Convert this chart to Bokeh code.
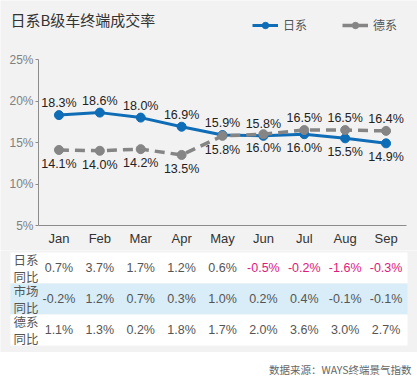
from bokeh.plotting import figure
from bokeh.models import (Range1d, FixedTicker, PrintfTickFormatter,
                          Legend, LegendItem, Label, ColumnDataSource)
from bokeh.layouts import column
from bokeh.embed import file_html
from bokeh.resources import INLINE
from bokeh.core.properties import value

# ---------------- data ----------------
months = ["Jan", "Feb", "Mar", "Apr", "May", "Jun", "Jul", "Aug", "Sep"]
jp_rate = [18.3, 18.6, 18.0, 16.9, 15.9, 15.8, 16.0, 15.5, 14.9]
de_rate = [14.1, 14.0, 14.2, 13.5, 15.8, 16.0, 16.5, 16.5, 16.4]
jp_yoy = [0.7, 3.7, 1.7, 1.2, 0.6, -0.5, -0.2, -1.6, -0.3]
mkt_yoy = [-0.2, 1.2, 0.7, 0.3, 1.0, 0.2, 0.4, -0.1, -0.1]
de_yoy = [1.1, 1.3, 0.2, 1.8, 1.7, 2.0, 3.6, 3.0, 2.7]
row_names = ["日系\n同比", "市场\n同比", "德系\n同比"]
y_ticks = [5, 10, 15, 20, 25]
series_names = ["日系", "德系"]
title_text = "日系B级车终端成交率"
source_note = "数据来源：WAYS终端景气指数"
jp_label_side = ["above", "above", "above", "above", "above", "above", "below", "below", "below"]
de_label_side = ["below", "below", "below", "below", "below", "below", "above", "above", "above"]

# ---------------- style / geometry ----------------
W = 417
BG = "#f2f2f2"
BLUE = "#0f6cb6"
GRAY = "#858585"
NUM_FONT = value("Liberation Sans")
CJK = "Noto Sans CJK SC"
AX_L, AX_R, AX_T, AX_B = 38, 406, 59, 225     # pixel box of the axes area
MAIN_H = 250
Y_MIN, Y_MAX = 5, 25
ABOVE_OFF = -12
BELOW_OFF = 14

n = len(months)
step = (AX_R - AX_L) / n                       # px per month
ppu = (AX_B - AX_T) / (Y_MAX - Y_MIN)          # px per percent
xpos = [i + 0.5 for i in range(n)]
x_range_main = Range1d(-AX_L / step, n + (W - AX_R) / step)
y_range_main = Range1d(Y_MIN - (MAIN_H - AX_B) / ppu, Y_MAX + AX_T / ppu)

def side_off(s):
    return ABOVE_OFF if s == "above" else BELOW_OFF

src = ColumnDataSource(dict(
    x=xpos, jp=jp_rate, de=de_rate,
    jp_txt=[f"{v:.1f}%" for v in jp_rate],
    de_txt=[f"{v:.1f}%" for v in de_rate],
    jp_off=[side_off(s) for s in jp_label_side],
    de_off=[side_off(s) for s in de_label_side],
))

p = figure(width=W, height=MAIN_H, x_range=x_range_main, y_range=y_range_main,
           output_backend="svg", toolbar_location=None,
           min_border_left=0, min_border_right=0, min_border_top=0, min_border_bottom=0,
           background_fill_color=BG, border_fill_color=BG, outline_line_color=None)
p.grid.visible = False

p.yaxis.fixed_location = 0
p.yaxis.bounds = (Y_MIN, Y_MAX)
p.yaxis.ticker = FixedTicker(ticks=y_ticks)
p.yaxis.formatter = PrintfTickFormatter(format="%d%%")
p.yaxis.major_label_text_font_size = "12px"
p.yaxis.major_label_text_color = "#808080"
p.yaxis.major_label_text_font = "Liberation Sans"
p.yaxis.major_tick_in = 0
p.yaxis.major_tick_out = 3
p.yaxis.minor_tick_line_color = None
p.yaxis.major_label_standoff = 2
p.yaxis.axis_line_color = "#8c8c8c"
p.yaxis.major_tick_line_color = "#8c8c8c"

p.xaxis.fixed_location = Y_MIN
p.xaxis.bounds = (0, n)
p.xaxis.ticker = FixedTicker(ticks=xpos)
p.xaxis.major_label_overrides = {x: m for x, m in zip(xpos, months)}
p.xaxis.minor_tick_line_color = None
p.xaxis.major_tick_line_color = None
p.xaxis.major_tick_in = 0
p.xaxis.major_tick_out = 0
p.xaxis.major_label_text_font_size = "13px"
p.xaxis.major_label_text_color = "#333333"
p.xaxis.major_label_text_font = "Liberation Sans"
p.xaxis.major_label_standoff = 5
p.xaxis.axis_line_color = "#8c8c8c"

r1 = p.line("x", "jp", source=src, line_color=BLUE, line_width=3)
r1s = p.scatter("x", "jp", source=src, size=9, fill_color=BLUE, line_color=BLUE)
r2 = p.line("x", "de", source=src, line_color=GRAY, line_width=3.5, line_dash="10 6")
r2s = p.scatter("x", "de", source=src, size=9, fill_color=GRAY, line_color=GRAY)

p.text("x", "jp", text="jp_txt", source=src, y_offset="jp_off", text_align="center",
       text_baseline="middle", text_font_size="12.5px", text_color="#222222", text_font=NUM_FONT)
p.text("x", "de", text="de_txt", source=src, y_offset="de_off", text_align="center",
       text_baseline="middle", text_font_size="12.5px", text_color="#222222", text_font=NUM_FONT)

legend = Legend(items=[LegendItem(label=series_names[0], renderers=[r1, r1s]),
                       LegendItem(label=series_names[1], renderers=[r2, r2s])],
                orientation="horizontal", location=(252, MAIN_H - 33),
                background_fill_alpha=0, border_line_color=None,
                glyph_width=26, glyph_height=16, label_height=16,
                label_text_font_size="12px", label_text_color="#555555", label_text_font=CJK,
                spacing=35, padding=0, margin=0, label_standoff=5)
p.add_layout(legend)

p.add_layout(Label(x=10, y=MAIN_H - 18.5, x_units="screen", y_units="screen",
                   text=title_text, text_font_size="15px", text_baseline="middle",
                   text_color="#333333", text_font=CJK))

# ---------------- table ----------------
ROW_H = 31
TH = 102
t = figure(width=W, height=TH, x_range=Range1d(-AX_L / step, n + (W - AX_R) / step),
           y_range=Range1d((TH - 2) / ROW_H, -2 / ROW_H),
           output_backend="svg", toolbar_location=None,
           min_border_left=0, min_border_right=0, min_border_top=0, min_border_bottom=0,
           x_axis_type=None, y_axis_type=None,
           background_fill_color=BG, border_fill_color=BG, outline_line_color=None)
t.grid.visible = False

rows = [jp_yoy, mkt_yoy, de_yoy]
row_bg = ["#ffffff", "#d8edf8", "#ffffff"]
t.quad(left=[(10 - AX_L) / step] * 3, right=[n + (407 - AX_R) / step] * 3,
       top=[0, 1, 2], bottom=[1, 2, 3], fill_color=row_bg, line_color=None)

xs, ys, txt, cols = [], [], [], []
for r, vals in enumerate(rows):
    for i, v in enumerate(vals):
        xs.append(xpos[i])
        ys.append(r + 0.5)
        txt.append(f"{v:.1f}%")
        cols.append("#e0197d" if (r == 0 and v < 0) else "#555555")
t.text(xs, ys, text=txt, text_color=cols, text_align="center", text_baseline="middle",
       text_font_size="12.5px", text_font=NUM_FONT)
t.text([(13 - AX_L) / step] * 3, [0.5, 1.5, 2.5], text=row_names, text_align="left",
       text_baseline="middle", text_font_size="12.5px", text_color="#555555",
       text_font=value(CJK), text_line_height=0.9)

# ---------------- footer ----------------
FH = 380 - MAIN_H - TH
f = figure(width=W, height=FH, x_range=Range1d(0, W), y_range=Range1d(FH, 0),
           output_backend="svg", toolbar_location=None,
           min_border_left=0, min_border_right=0, min_border_top=0, min_border_bottom=0,
           x_axis_type=None, y_axis_type=None,
           background_fill_color="white", border_fill_color="white", outline_line_color=None)
f.grid.visible = False
f.text([411], [17], text=[source_note], text_align="right", text_baseline="middle",
       text_font_size="10.5px", text_color="#666666", text_font=value(CJK))

layout = column(p, t, f, spacing=0)
open("out.html", "w").write(file_html(layout, INLINE))
